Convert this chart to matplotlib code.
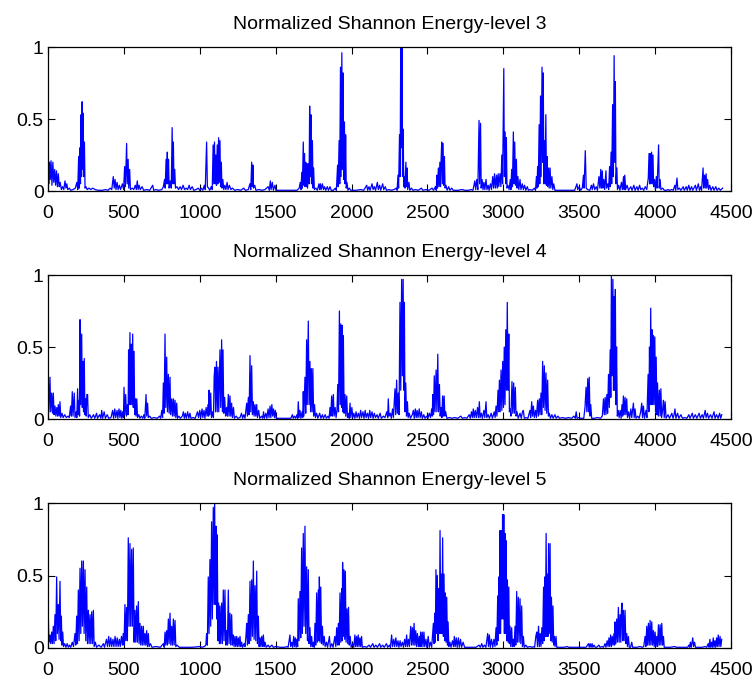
import matplotlib
matplotlib.use("Agg")
import matplotlib.pyplot as plt

plt.rcParams['font.family'] = ['Liberation Sans', 'DejaVu Sans']

# normalized Shannon energy envelopes, (sample, value) vertices per decomposition level
level3 = [(0,0.43),(5,0.05),(10,0.2),(15,0.08),(20,0.21),(26,0.04),(32,0.2),(38,0.06),(44,0.15),(50,0.04),
    (56,0.14),(62,0.03),(68,0.12),(74,0.03),(80,0.06),(88,0.01),(96,0.03),(104,0.01),(112,0.07),(118,0.02),
    (124,0.05),(130,0.01),(140,0.02),(150,0.005),(165,0.01),(180,0.02),(190,0.06),(196,0.01),(202,0.24),(206,0.02),
    (210,0.3),(214,0.05),(218,0.53),(221,0.1),(225,0.62),(228,0.15),(232,0.54),(235,0.1),(240,0.34),(244,0.02),
    (250,0.03),(258,0.01),(270,0.02),(282,0.01),(295,0.02),(310,0.01),(330,0.005),(360,0.005),(380,0.01),(395,0.005),
    (410,0.02),(420,0.01),(430,0.1),(436,0.02),(442,0.08),(448,0.01),(455,0.06),(462,0.01),(470,0.04),(478,0.01),
    (490,0.05),(498,0.01),(505,0.17),(510,0.03),(518,0.33),(522,0.05),(528,0.22),(532,0.02),(538,0.15),(543,0.01),
    (555,0.02),(565,0.01),(575,0.04),(582,0.01),(588,0.07),(594,0.01),(600,0.04),(608,0.01),(620,0.03),(630,0.005),
    (650,0.01),(670,0.005),(690,0.04),(696,0.005),(710,0.01),(730,0.005),(750,0.01),(760,0.03),(768,0.08),(772,0.02),
    (778,0.22),(782,0.05),(786,0.27),(790,0.05),(794,0.22),(798,0.02),(805,0.07),(812,0.02),(818,0.44),(822,0.05),
    (826,0.34),(830,0.05),(835,0.15),(840,0.02),(850,0.03),(860,0.01),(870,0.03),(880,0.01),(890,0.04),(900,0.01),
    (910,0.02),(920,0.01),(930,0.04),(938,0.01),(950,0.03),(960,0.005),(975,0.01),(990,0.02),(1000,0.005),(1010,0.02),
    (1020,0.005),(1030,0.04),(1036,0.01),(1045,0.34),(1050,0.03),(1058,0.02),(1066,0.005),(1075,0.03),(1082,0.01),(1088,0.32),
    (1092,0.05),(1097,0.34),(1101,0.05),(1106,0.25),(1110,0.04),(1115,0.32),(1119,0.05),(1124,0.37),(1128,0.06),(1133,0.35),
    (1137,0.03),(1142,0.2),(1146,0.02),(1152,0.08),(1158,0.01),(1165,0.04),(1172,0.01),(1180,0.06),(1186,0.01),(1195,0.04),
    (1205,0.01),(1215,0.02),(1230,0.005),(1250,0.01),(1270,0.005),(1290,0.02),(1300,0.005),(1320,0.01),(1330,0.05),(1336,0.01),
    (1342,0.2),(1346,0.03),(1350,0.18),(1354,0.02),(1362,0.04),(1370,0.005),(1390,0.01),(1410,0.005),(1430,0.01),(1450,0.03),
    (1458,0.005),(1465,0.07),(1470,0.01),(1478,0.06),(1485,0.005),(1495,0.04),(1502,0.005),(1530,0.005),(1560,0.005),(1600,0.005),
    (1640,0.005),(1655,0.02),(1662,0.06),(1667,0.01),(1672,0.13),(1676,0.02),(1682,0.34),(1686,0.04),(1690,0.26),(1694,0.03),
    (1698,0.2),(1702,0.03),(1706,0.19),(1710,0.02),(1716,0.19),(1720,0.05),(1724,0.59),(1728,0.1),(1732,0.53),(1736,0.05),
    (1742,0.35),(1746,0.02),(1750,0.16),(1755,0.01),(1765,0.02),(1775,0.005),(1785,0.05),(1790,0.01),(1795,0.05),(1800,0.01),
    (1808,0.05),(1815,0.01),(1822,0.03),(1830,0.005),(1840,0.03),(1848,0.005),(1858,0.03),(1866,0.005),(1880,0.005),(1893,0.02),
    (1900,0.005),(1908,0.18),(1912,0.03),(1918,0.35),(1922,0.05),(1927,0.86),(1931,0.1),(1936,0.96),(1940,0.15),(1944,0.82),
    (1948,0.08),(1953,0.48),(1957,0.05),(1961,0.39),(1965,0.02),(1970,0.06),(1976,0.005),(1985,0.02),(1995,0.005),(2010,0.005),
    (2030,0.005),(2060,0.01),(2080,0.005),(2100,0.04),(2106,0.005),(2115,0.03),(2122,0.005),(2135,0.05),(2142,0.01),(2150,0.03),
    (2158,0.005),(2170,0.06),(2176,0.01),(2185,0.04),(2192,0.005),(2205,0.05),(2212,0.01),(2222,0.03),(2230,0.005),(2245,0.01),
    (2260,0.005),(2280,0.01),(2295,0.02),(2300,0.005),(2306,0.11),(2310,0.02),(2316,0.39),(2320,0.1),(2324,1.0),(2328,0.3),
    (2332,1.0),(2336,0.1),(2340,0.43),(2344,0.03),(2348,0.1),(2352,0.02),(2358,0.2),(2362,0.03),(2366,0.16),(2370,0.01),
    (2378,0.06),(2384,0.005),(2395,0.02),(2405,0.005),(2420,0.01),(2440,0.005),(2460,0.02),(2470,0.005),(2490,0.01),(2510,0.005),
    (2530,0.02),(2540,0.005),(2552,0.03),(2558,0.005),(2562,0.11),(2566,0.02),(2572,0.16),(2576,0.03),(2582,0.2),(2586,0.03),
    (2590,0.22),(2594,0.34),(2598,0.05),(2603,0.33),(2607,0.04),(2612,0.24),(2616,0.02),(2622,0.04),(2630,0.005),(2640,0.03),
    (2648,0.005),(2660,0.02),(2670,0.005),(2700,0.005),(2730,0.01),(2745,0.005),(2770,0.005),(2790,0.01),(2800,0.005),(2812,0.07),
    (2818,0.01),(2825,0.08),(2832,0.01),(2840,0.49),(2844,0.05),(2850,0.47),(2854,0.02),(2860,0.08),(2866,0.01),(2872,0.06),
    (2878,0.01),(2886,0.08),(2892,0.01),(2900,0.04),(2906,0.005),(2915,0.05),(2922,0.01),(2930,0.1),(2936,0.02),(2942,0.12),
    (2948,0.02),(2955,0.11),(2960,0.02),(2966,0.12),(2970,0.03),(2978,0.12),(2984,0.03),(2990,0.25),(2995,0.05),(3003,0.85),
    (3007,0.1),(3012,0.41),(3016,0.05),(3020,0.37),(3024,0.02),(3030,0.04),(3038,0.01),(3046,0.08),(3050,0.01),(3055,0.15),
    (3060,0.03),(3066,0.41),(3070,0.05),(3075,0.34),(3080,0.04),(3086,0.22),(3090,0.02),(3096,0.1),(3102,0.01),(3110,0.08),
    (3116,0.01),(3125,0.05),(3132,0.01),(3140,0.04),(3148,0.005),(3158,0.03),(3165,0.005),(3175,0.01),(3190,0.005),(3205,0.02),
    (3212,0.005),(3218,0.1),(3222,0.02),(3226,0.17),(3230,0.03),(3236,0.46),(3240,0.05),(3245,0.66),(3249,0.1),(3255,0.86),
    (3259,0.2),(3263,0.82),(3267,0.05),(3271,0.35),(3275,0.05),(3280,0.53),(3284,0.04),(3288,0.24),(3292,0.03),(3298,0.16),
    (3302,0.02),(3308,0.16),(3313,0.02),(3320,0.1),(3326,0.01),(3332,0.05),(3340,0.005),(3360,0.005),(3400,0.005),(3440,0.005),
    (3470,0.005),(3485,0.05),(3490,0.01),(3500,0.03),(3510,0.005),(3520,0.02),(3528,0.11),(3532,0.02),(3540,0.28),(3546,0.02),
    (3555,0.01),(3570,0.005),(3580,0.04),(3586,0.01),(3594,0.05),(3602,0.01),(3612,0.03),(3620,0.005),(3630,0.1),(3636,0.02),
    (3642,0.15),(3646,0.02),(3652,0.14),(3656,0.02),(3662,0.08),(3668,0.01),(3676,0.14),(3680,0.02),(3688,0.05),(3694,0.01),
    (3700,0.17),(3704,0.03),(3710,0.27),(3714,0.05),(3720,0.6),(3725,0.1),(3730,0.94),(3734,0.2),(3738,0.76),(3742,0.05),
    (3748,0.16),(3752,0.01),(3760,0.04),(3768,0.005),(3778,0.06),(3784,0.01),(3792,0.1),(3796,0.01),(3800,0.11),(3806,0.01),
    (3815,0.04),(3825,0.005),(3840,0.03),(3848,0.005),(3860,0.04),(3868,0.005),(3880,0.03),(3888,0.005),(3898,0.04),(3905,0.01),
    (3915,0.02),(3925,0.005),(3935,0.03),(3945,0.01),(3955,0.09),(3960,0.26),(3964,0.05),(3968,0.26),(3972,0.05),(3977,0.27),
    (3981,0.05),(3986,0.25),(3990,0.03),(3996,0.08),(4002,0.01),(4008,0.1),(4013,0.02),(4023,0.32),(4027,0.02),(4033,0.08),
    (4038,0.01),(4050,0.02),(4060,0.005),(4075,0.005),(4085,0.01),(4095,0.005),(4110,0.01),(4120,0.005),(4130,0.04),(4136,0.005),
    (4144,0.09),(4150,0.01),(4160,0.02),(4170,0.005),(4185,0.03),(4192,0.005),(4205,0.03),(4212,0.005),(4222,0.04),(4230,0.005),
    (4240,0.03),(4248,0.005),(4265,0.04),(4272,0.005),(4285,0.05),(4292,0.005),(4300,0.03),(4306,0.005),(4316,0.16),(4320,0.02),
    (4326,0.11),(4330,0.02),(4336,0.12),(4340,0.02),(4346,0.08),(4352,0.01),(4360,0.04),(4368,0.005),(4380,0.03),(4388,0.005),
    (4400,0.03),(4408,0.005),(4420,0.02),(4430,0.005),(4445,0.02)]

level4 = [(0,0.40),(6,0.05),(13,0.29),(18,0.05),(24,0.18),(30,0.04),(35,0.18),(40,0.03),(46,0.09),(52,0.02),
    (58,0.08),(64,0.02),(68,0.1),(74,0.02),(79,0.12),(84,0.01),(92,0.04),(100,0.01),(110,0.03),(120,0.01),
    (132,0.02),(140,0.01),(149,0.09),(154,0.02),(160,0.19),(165,0.02),(173,0.18),(178,0.01),(186,0.05),(190,0.01),
    (195,0.21),(200,0.03),(205,0.13),(208,0.02),(211,0.69),(215,0.1),(222,0.59),(226,0.08),(230,0.4),(234,0.05),
    (239,0.42),(243,0.03),(248,0.14),(252,0.02),(256,0.17),(261,0.17),(265,0.01),(275,0.03),(285,0.005),(300,0.03),
    (308,0.005),(320,0.04),(326,0.005),(340,0.03),(348,0.005),(354,0.06),(360,0.005),(370,0.05),(378,0.005),(390,0.03),
    (400,0.005),(415,0.01),(426,0.06),(432,0.005),(440,0.07),(446,0.01),(455,0.06),(460,0.005),(468,0.07),(474,0.01),
    (480,0.06),(486,0.005),(492,0.05),(497,0.01),(501,0.22),(506,0.03),(512,0.17),(517,0.02),(524,0.1),(528,0.03),
    (531,0.48),(535,0.1),(540,0.6),(544,0.1),(549,0.52),(553,0.1),(558,0.59),(562,0.08),(567,0.47),(571,0.03),
    (576,0.14),(580,0.02),(585,0.14),(590,0.01),(598,0.03),(606,0.005),(615,0.02),(625,0.005),(632,0.03),(638,0.005),
    (646,0.17),(650,0.02),(656,0.11),(661,0.01),(670,0.02),(680,0.005),(700,0.01),(720,0.005),(735,0.02),(742,0.005),
    (750,0.06),(755,0.01),(760,0.25),(765,0.04),(771,0.59),(776,0.08),(782,0.43),(787,0.05),(793,0.31),(798,0.04),
    (804,0.29),(808,0.03),(815,0.14),(820,0.02),(826,0.14),(831,0.02),(837,0.13),(842,0.01),(848,0.11),(853,0.005),
    (862,0.02),(872,0.005),(885,0.02),(892,0.05),(898,0.005),(905,0.04),(912,0.005),(920,0.05),(928,0.005),(935,0.04),
    (942,0.005),(955,0.01),(970,0.005),(985,0.05),(992,0.01),(1000,0.06),(1006,0.01),(1015,0.07),(1020,0.01),(1028,0.06),
    (1034,0.005),(1042,0.08),(1048,0.02),(1054,0.1),(1058,0.02),(1061,0.2),(1066,0.03),(1072,0.18),(1077,0.01),(1085,0.05),
    (1090,0.01),(1095,0.3),(1100,0.36),(1104,0.05),(1110,0.4),(1115,0.05),(1120,0.36),(1125,0.05),(1133,0.48),(1138,0.08),
    (1144,0.55),(1149,0.05),(1153,0.48),(1158,0.04),(1164,0.15),(1170,0.02),(1177,0.08),(1182,0.02),(1188,0.17),(1193,0.02),
    (1199,0.16),(1204,0.02),(1210,0.11),(1215,0.01),(1222,0.08),(1228,0.005),(1240,0.02),(1250,0.005),(1265,0.01),(1275,0.04),
    (1282,0.005),(1290,0.03),(1298,0.005),(1303,0.05),(1309,0.11),(1314,0.02),(1320,0.15),(1325,0.03),(1331,0.44),(1336,0.05),
    (1342,0.37),(1347,0.03),(1353,0.12),(1358,0.02),(1364,0.1),(1369,0.02),(1375,0.1),(1380,0.01),(1388,0.06),(1395,0.005),
    (1408,0.02),(1415,0.005),(1420,0.05),(1426,0.005),(1435,0.04),(1442,0.005),(1450,0.07),(1456,0.01),(1463,0.09),(1468,0.01),
    (1475,0.1),(1480,0.02),(1486,0.07),(1492,0.01),(1498,0.06),(1504,0.005),(1520,0.005),(1560,0.005),(1600,0.005),(1610,0.03),
    (1616,0.005),(1624,0.02),(1632,0.005),(1640,0.03),(1645,0.005),(1649,0.12),(1654,0.01),(1660,0.06),(1666,0.005),(1674,0.05),
    (1678,0.01),(1682,0.19),(1686,0.02),(1693,0.29),(1698,0.04),(1704,0.55),(1708,0.1),(1715,0.68),(1720,0.1),(1726,0.4),
    (1730,0.05),(1735,0.35),(1740,0.05),(1745,0.35),(1750,0.02),(1756,0.1),(1762,0.01),(1770,0.04),(1778,0.005),(1790,0.04),
    (1798,0.005),(1808,0.03),(1815,0.005),(1826,0.03),(1834,0.005),(1845,0.02),(1852,0.005),(1858,0.08),(1863,0.02),(1869,0.16),
    (1874,0.02),(1880,0.17),(1885,0.02),(1892,0.08),(1898,0.01),(1904,0.06),(1909,0.24),(1914,0.05),(1920,0.75),(1925,0.1),
    (1929,0.66),(1934,0.08),(1938,0.65),(1942,0.05),(1946,0.58),(1951,0.04),(1957,0.17),(1962,0.02),(1968,0.16),(1973,0.01),
    (1980,0.04),(1985,0.005),(1990,0.11),(1995,0.01),(2002,0.08),(2008,0.01),(2015,0.04),(2022,0.005),(2030,0.05),(2036,0.01),
    (2045,0.04),(2052,0.005),(2060,0.06),(2066,0.01),(2075,0.05),(2082,0.005),(2090,0.06),(2096,0.01),(2105,0.04),(2112,0.005),
    (2120,0.06),(2126,0.01),(2135,0.05),(2142,0.005),(2150,0.04),(2158,0.01),(2168,0.03),(2176,0.005),(2188,0.04),(2196,0.005),
    (2210,0.02),(2220,0.01),(2232,0.05),(2238,0.01),(2242,0.14),(2247,0.02),(2255,0.04),(2262,0.005),(2270,0.07),(2276,0.01),
    (2286,0.21),(2291,0.03),(2297,0.27),(2302,0.04),(2308,0.18),(2313,0.03),(2319,0.81),(2324,0.2),(2330,0.97),(2335,0.3),
    (2340,0.97),(2344,0.2),(2348,0.81),(2352,0.05),(2357,0.25),(2362,0.02),(2368,0.12),(2373,0.01),(2380,0.04),(2388,0.005),
    (2400,0.03),(2407,0.06),(2413,0.005),(2420,0.07),(2426,0.01),(2432,0.06),(2438,0.01),(2446,0.07),(2452,0.01),(2460,0.05),
    (2466,0.005),(2476,0.03),(2484,0.005),(2495,0.02),(2503,0.005),(2512,0.04),(2520,0.01),(2528,0.07),(2532,0.02),(2535,0.17),
    (2540,0.03),(2545,0.3),(2550,0.05),(2557,0.34),(2562,0.05),(2568,0.45),(2573,0.05),(2579,0.24),(2584,0.02),(2590,0.08),
    (2595,0.01),(2600,0.16),(2605,0.02),(2610,0.16),(2615,0.02),(2620,0.05),(2628,0.005),(2645,0.01),(2660,0.005),(2680,0.01),
    (2700,0.005),(2720,0.02),(2730,0.005),(2745,0.01),(2760,0.005),(2775,0.03),(2782,0.005),(2790,0.05),(2796,0.01),(2802,0.07),
    (2808,0.01),(2815,0.06),(2822,0.01),(2830,0.08),(2836,0.01),(2842,0.12),(2847,0.01),(2855,0.04),(2862,0.005),(2872,0.06),
    (2878,0.01),(2886,0.12),(2891,0.01),(2900,0.03),(2908,0.005),(2920,0.04),(2928,0.005),(2940,0.05),(2946,0.01),(2952,0.09),
    (2958,0.02),(2965,0.2),(2970,0.05),(2974,0.27),(2979,0.05),(2985,0.34),(2990,0.06),(2996,0.4),(3001,0.08),(3006,0.5),
    (3011,0.1),(3016,0.62),(3021,0.2),(3026,0.81),(3031,0.2),(3036,0.59),(3040,0.05),(3045,0.07),(3050,0.02),(3057,0.26),
    (3062,0.04),(3068,0.25),(3073,0.04),(3079,0.22),(3084,0.02),(3090,0.05),(3098,0.005),(3110,0.04),(3118,0.005),(3126,0.05),
    (3132,0.06),(3138,0.005),(3150,0.01),(3162,0.005),(3175,0.06),(3180,0.01),(3187,0.12),(3192,0.02),(3198,0.09),(3204,0.01),
    (3212,0.06),(3218,0.01),(3226,0.13),(3231,0.02),(3237,0.14),(3242,0.03),(3248,0.18),(3253,0.03),(3259,0.4),(3264,0.08),
    (3270,0.37),(3275,0.06),(3281,0.32),(3286,0.04),(3292,0.27),(3297,0.02),(3303,0.04),(3310,0.005),(3320,0.03),(3328,0.005),
    (3340,0.03),(3348,0.005),(3360,0.02),(3370,0.005),(3390,0.01),(3410,0.005),(3430,0.01),(3450,0.005),(3465,0.02),(3474,0.005),
    (3480,0.05),(3486,0.005),(3495,0.01),(3510,0.005),(3530,0.005),(3538,0.08),(3545,0.22),(3550,0.05),(3556,0.28),(3561,0.05),
    (3566,0.29),(3571,0.02),(3576,0.1),(3582,0.005),(3600,0.005),(3620,0.01),(3640,0.005),(3652,0.02),(3660,0.14),(3665,0.03),
    (3671,0.15),(3676,0.03),(3682,0.17),(3687,0.04),(3693,0.31),(3698,0.08),(3704,0.48),(3708,0.15),(3712,1.0),(3717,0.3),
    (3722,0.97),(3726,0.2),(3730,0.85),(3734,0.2),(3738,0.9),(3742,0.1),(3746,0.5),(3751,0.02),(3757,0.06),(3763,0.01),
    (3770,0.06),(3776,0.005),(3782,0.1),(3786,0.02),(3791,0.16),(3796,0.03),(3802,0.15),(3807,0.03),(3813,0.14),(3818,0.01),
    (3825,0.05),(3832,0.005),(3840,0.07),(3846,0.01),(3857,0.11),(3862,0.01),(3868,0.07),(3874,0.005),(3885,0.02),(3895,0.005),
    (3905,0.05),(3912,0.11),(3917,0.01),(3923,0.09),(3930,0.005),(3940,0.06),(3946,0.01),(3954,0.31),(3959,0.05),(3963,0.5),
    (3967,0.1),(3971,0.77),(3976,0.1),(3980,0.62),(3984,0.1),(3989,0.58),(3993,0.1),(3998,0.57),(4003,0.05),(4007,0.43),
    (4012,0.03),(4016,0.25),(4021,0.02),(4028,0.2),(4033,0.02),(4038,0.21),(4043,0.01),(4050,0.07),(4055,0.13),(4060,0.01),
    (4066,0.12),(4072,0.005),(4085,0.03),(4095,0.005),(4110,0.04),(4118,0.005),(4125,0.03),(4131,0.07),(4137,0.005),(4148,0.04),
    (4156,0.005),(4170,0.03),(4180,0.005),(4195,0.01),(4210,0.005),(4222,0.03),(4230,0.005),(4245,0.04),(4252,0.005),(4265,0.03),
    (4275,0.005),(4290,0.04),(4298,0.005),(4310,0.03),(4318,0.005),(4330,0.06),(4336,0.01),(4345,0.04),(4352,0.005),(4365,0.03),
    (4375,0.005),(4388,0.05),(4395,0.005),(4405,0.03),(4415,0.005),(4425,0.04),(4432,0.005),(4439,0.03)]

level5 = [(0,0.31),(6,0.04),(13,0.09),(18,0.03),(24,0.11),(29,0.03),(35,0.15),(40,0.03),(46,0.23),(51,0.05),
    (57,0.49),(62,0.1),(68,0.3),(73,0.06),(79,0.46),(84,0.05),(88,0.22),(92,0.02),(97,0.11),(102,0.01),
    (110,0.03),(118,0.005),(126,0.03),(134,0.005),(142,0.02),(150,0.005),(160,0.04),(168,0.01),(178,0.1),(183,0.02),
    (189,0.22),(194,0.03),(200,0.4),(205,0.05),(211,0.55),(216,0.1),(222,0.6),(227,0.15),(233,0.6),(238,0.1),
    (244,0.54),(249,0.05),(255,0.42),(260,0.03),(266,0.26),(271,0.03),(277,0.23),(282,0.03),(288,0.25),(293,0.03),
    (299,0.26),(304,0.01),(312,0.04),(320,0.005),(335,0.02),(350,0.005),(365,0.03),(372,0.005),(385,0.06),(392,0.01),
    (400,0.08),(406,0.01),(414,0.07),(420,0.01),(428,0.06),(434,0.01),(442,0.08),(448,0.01),(456,0.07),(462,0.01),
    (470,0.06),(476,0.01),(484,0.08),(490,0.02),(496,0.1),(501,0.02),(507,0.3),(512,0.05),(518,0.28),(523,0.05),
    (529,0.76),(534,0.15),(540,0.72),(545,0.15),(551,0.68),(556,0.15),(562,0.69),(567,0.04),(573,0.26),(578,0.04),
    (584,0.29),(589,0.04),(595,0.32),(600,0.03),(606,0.17),(611,0.02),(617,0.15),(622,0.02),(628,0.15),(633,0.02),
    (639,0.1),(644,0.02),(650,0.12),(655,0.01),(661,0.1),(666,0.01),(675,0.03),(685,0.005),(710,0.01),(740,0.005),
    (760,0.03),(766,0.005),(771,0.11),(776,0.02),(782,0.12),(787,0.02),(793,0.2),(798,0.03),(804,0.24),(809,0.02),
    (815,0.15),(820,0.02),(826,0.2),(831,0.02),(837,0.19),(842,0.01),(850,0.02),(865,0.005),(900,0.005),(950,0.005),
    (1000,0.01),(1015,0.005),(1030,0.01),(1040,0.02),(1045,0.1),(1050,0.02),(1056,0.49),(1061,0.1),(1067,0.61),(1072,0.15),
    (1078,0.87),(1083,0.2),(1089,0.97),(1094,0.3),(1098,1.0),(1103,0.3),(1107,0.84),(1111,0.2),(1115,0.78),(1120,0.05),
    (1124,0.31),(1129,0.03),(1133,0.29),(1138,0.03),(1144,0.31),(1149,0.03),(1155,0.4),(1160,0.05),(1166,0.4),(1171,0.02),
    (1177,0.12),(1182,0.02),(1188,0.4),(1193,0.03),(1199,0.24),(1204,0.02),(1210,0.23),(1215,0.02),(1221,0.09),(1226,0.01),
    (1232,0.08),(1237,0.01),(1243,0.08),(1248,0.01),(1254,0.07),(1259,0.01),(1265,0.08),(1270,0.01),(1276,0.04),(1282,0.005),
    (1292,0.03),(1298,0.01),(1304,0.08),(1309,0.17),(1314,0.02),(1320,0.23),(1325,0.03),(1331,0.46),(1336,0.05),(1342,0.47),
    (1347,0.08),(1353,0.6),(1358,0.06),(1364,0.43),(1369,0.05),(1375,0.53),(1380,0.03),(1386,0.22),(1391,0.01),(1397,0.07),
    (1402,0.01),(1408,0.08),(1413,0.01),(1419,0.09),(1424,0.01),(1430,0.04),(1438,0.005),(1450,0.02),(1460,0.005),(1475,0.02),
    (1485,0.005),(1500,0.01),(1530,0.005),(1560,0.005),(1575,0.01),(1582,0.005),(1594,0.09),(1599,0.01),(1606,0.04),(1612,0.005),
    (1619,0.08),(1624,0.01),(1630,0.07),(1635,0.005),(1640,0.06),(1645,0.01),(1649,0.34),(1654,0.05),(1660,0.39),(1665,0.07),
    (1671,0.69),(1676,0.1),(1682,0.79),(1687,0.15),(1693,0.84),(1698,0.1),(1704,0.56),(1709,0.05),(1715,0.54),(1720,0.03),
    (1726,0.14),(1731,0.01),(1737,0.08),(1742,0.01),(1748,0.04),(1754,0.005),(1759,0.17),(1764,0.02),(1770,0.38),(1775,0.04),
    (1781,0.4),(1785,0.05),(1788,0.49),(1792,0.04),(1797,0.42),(1802,0.03),(1808,0.15),(1813,0.02),(1820,0.08),(1826,0.01),
    (1835,0.04),(1842,0.005),(1854,0.08),(1860,0.005),(1870,0.03),(1878,0.005),(1890,0.08),(1896,0.01),(1902,0.14),(1907,0.02),
    (1913,0.17),(1918,0.02),(1924,0.38),(1929,0.04),(1935,0.41),(1938,0.05),(1941,0.59),(1946,0.08),(1950,0.54),(1955,0.06),
    (1959,0.53),(1964,0.04),(1970,0.27),(1975,0.03),(1980,0.28),(1985,0.02),(1991,0.08),(1997,0.005),(2008,0.03),(2015,0.005),
    (2022,0.09),(2027,0.01),(2033,0.08),(2038,0.01),(2044,0.09),(2049,0.01),(2055,0.07),(2060,0.01),(2066,0.08),(2071,0.005),
    (2085,0.01),(2100,0.005),(2115,0.02),(2125,0.005),(2140,0.03),(2148,0.005),(2160,0.02),(2170,0.005),(2185,0.03),(2192,0.005),
    (2205,0.02),(2215,0.005),(2230,0.03),(2238,0.005),(2250,0.02),(2256,0.005),(2264,0.09),(2270,0.01),(2278,0.06),(2284,0.01),
    (2292,0.07),(2298,0.01),(2306,0.05),(2312,0.005),(2320,0.05),(2326,0.01),(2335,0.04),(2342,0.005),(2350,0.06),(2356,0.01),
    (2363,0.09),(2368,0.01),(2375,0.06),(2381,0.01),(2390,0.15),(2395,0.02),(2401,0.14),(2406,0.02),(2412,0.17),(2417,0.02),
    (2423,0.12),(2428,0.01),(2434,0.1),(2440,0.01),(2446,0.08),(2451,0.01),(2455,0.11),(2460,0.01),(2466,0.11),(2471,0.01),
    (2477,0.11),(2482,0.01),(2490,0.06),(2496,0.005),(2505,0.08),(2512,0.005),(2520,0.04),(2528,0.005),(2534,0.1),(2539,0.17),
    (2544,0.03),(2548,0.24),(2552,0.04),(2556,0.54),(2561,0.1),(2565,0.5),(2570,0.05),(2574,0.41),(2579,0.1),(2583,0.81),
    (2588,0.1),(2592,0.51),(2596,0.1),(2600,0.76),(2605,0.08),(2609,0.51),(2614,0.05),(2618,0.38),(2623,0.04),(2627,0.35),
    (2632,0.02),(2636,0.18),(2641,0.01),(2648,0.04),(2655,0.005),(2665,0.05),(2672,0.01),(2677,0.08),(2683,0.01),(2690,0.07),
    (2696,0.005),(2704,0.07),(2710,0.005),(2718,0.06),(2725,0.005),(2735,0.04),(2745,0.005),(2760,0.005),(2790,0.005),(2820,0.005),
    (2840,0.02),(2848,0.005),(2858,0.03),(2865,0.005),(2875,0.02),(2885,0.005),(2897,0.1),(2902,0.01),(2908,0.09),(2914,0.005),
    (2922,0.06),(2930,0.005),(2938,0.06),(2945,0.01),(2952,0.14),(2957,0.02),(2963,0.36),(2967,0.05),(2970,0.49),(2974,0.1),
    (2978,0.81),(2982,0.1),(2987,0.81),(2991,0.2),(2995,0.92),(2999,0.2),(3003,0.92),(3007,0.1),(3011,0.79),(3015,0.1),
    (3018,0.74),(3022,0.05),(3027,0.47),(3031,0.04),(3036,0.42),(3040,0.03),(3044,0.15),(3049,0.01),(3055,0.14),(3060,0.01),
    (3066,0.06),(3071,0.01),(3077,0.15),(3082,0.02),(3088,0.39),(3093,0.04),(3099,0.35),(3104,0.04),(3110,0.34),(3115,0.03),
    (3121,0.29),(3126,0.01),(3132,0.08),(3138,0.005),(3148,0.02),(3158,0.005),(3175,0.01),(3190,0.005),(3200,0.01),(3206,0.005),
    (3214,0.08),(3220,0.11),(3225,0.01),(3232,0.15),(3237,0.01),(3243,0.1),(3248,0.01),(3254,0.14),(3259,0.03),(3265,0.42),
    (3269,0.05),(3273,0.49),(3277,0.08),(3282,0.79),(3286,0.08),(3290,0.51),(3294,0.08),(3298,0.72),(3303,0.1),(3308,0.72),
    (3312,0.05),(3317,0.35),(3322,0.04),(3327,0.29),(3332,0.02),(3336,0.08),(3341,0.01),(3347,0.08),(3352,0.005),(3370,0.005),
    (3400,0.005),(3420,0.01),(3430,0.005),(3460,0.005),(3500,0.005),(3530,0.005),(3545,0.005),(3561,0.03),(3566,0.005),(3572,0.03),
    (3578,0.005),(3585,0.03),(3590,0.005),(3598,0.02),(3605,0.005),(3615,0.005),(3630,0.02),(3637,0.005),(3650,0.01),(3660,0.005),
    (3670,0.03),(3676,0.005),(3684,0.05),(3690,0.01),(3696,0.07),(3701,0.01),(3707,0.09),(3712,0.01),(3718,0.08),(3723,0.02),
    (3729,0.1),(3733,0.02),(3736,0.18),(3741,0.03),(3747,0.2),(3752,0.04),(3758,0.28),(3763,0.04),(3769,0.23),(3774,0.04),
    (3778,0.26),(3782,0.31),(3786,0.05),(3791,0.26),(3796,0.05),(3802,0.26),(3807,0.03),(3813,0.1),(3818,0.01),(3824,0.08),
    (3830,0.005),(3838,0.005),(3846,0.04),(3852,0.005),(3860,0.005),(3880,0.005),(3900,0.01),(3915,0.005),(3925,0.01),(3934,0.08),
    (3939,0.01),(3945,0.15),(3950,0.02),(3956,0.17),(3961,0.02),(3967,0.19),(3972,0.02),(3978,0.18),(3983,0.02),(3989,0.12),
    (3994,0.01),(4000,0.11),(4005,0.01),(4011,0.08),(4016,0.01),(4022,0.16),(4027,0.02),(4033,0.16),(4038,0.02),(4044,0.17),
    (4049,0.02),(4055,0.08),(4060,0.005),(4070,0.005),(4100,0.005),(4130,0.01),(4140,0.005),(4170,0.005),(4200,0.005),(4215,0.005),
    (4222,0.02),(4228,0.005),(4232,0.04),(4238,0.005),(4248,0.07),(4253,0.01),(4260,0.04),(4266,0.005),(4280,0.005),(4310,0.005),
    (4330,0.01),(4340,0.005),(4350,0.03),(4355,0.005),(4361,0.06),(4366,0.005),(4372,0.04),(4377,0.005),(4383,0.07),(4388,0.005),
    (4394,0.05),(4399,0.005),(4405,0.07),(4410,0.01),(4416,0.09),(4421,0.01),(4428,0.08),(4433,0.01),(4439,0.06)]

titles = ['Normalized Shannon Energy-level 3',
          'Normalized Shannon Energy-level 4',
          'Normalized Shannon Energy-level 5']
xticks = [0, 500, 1000, 1500, 2000, 2500, 3000, 3500, 4000, 4500]
yticks = [0, 0.5, 1]
ytick_labels = ['0', '0.5', '1']

W, H = 754, 681
fig = plt.figure(figsize=(W / 100, H / 100), dpi=100)

# axes boxes in pixels: left, top, right, bottom
boxes = [(48, 47, 731, 191), (48, 275, 731, 419), (48, 503, 731, 648)]

for (l, t, r, b), title, data in zip(boxes, titles, [level3, level4, level5]):
    ax = fig.add_axes([l / W, 1 - b / H, (r - l) / W, (b - t) / H])
    xs, ys = zip(*data)
    ax.plot(xs, ys, color='blue', lw=0.9)
    ax.set_xlim(0, 4500)
    ax.set_ylim(0, 1)
    ax.set_xticks(xticks)
    ax.set_yticks(yticks)
    ax.set_yticklabels(ytick_labels)
    ax.tick_params(direction='in', top=True, right=True, length=5, width=0.8,
                   labelsize=14)
    ax.tick_params(axis='x', pad=10)
    ax.tick_params(axis='y', pad=3)
    for s in ax.spines.values():
        s.set_linewidth(0.9)
    ax.set_title(title, fontsize=14, pad=13)

fig.savefig('out.png', dpi=100)
